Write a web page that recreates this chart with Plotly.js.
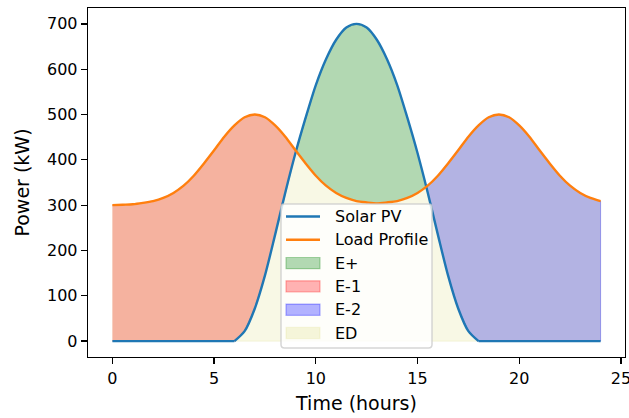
<!DOCTYPE html>
<html>
<head>
<meta charset="utf-8">
<script src="https://cdn.plot.ly/plotly-3.0.1.min.js"></script>
<style>
html,body{margin:0;padding:0;background:#ffffff;}
#chart{width:629px;height:418px;}
</style>
</head>
<body>
<div id="chart"></div>
<script>
// ---- data ----
const hours = [0,0.5,1,1.5,2,2.5,3,3.5,4,4.5,5,5.5,6,6.5,7,7.5,8,8.5,9,9.5,10,10.5,11,11.5,12,
               12.5,13,13.5,14,14.5,15,15.5,16,16.5,17,17.5,18,18.5,19,19.5,20,20.5,21,21.5,22,22.5,23,23.5,24];
const solarPV = [0,0,0,0,0,0,0,0,0,0,0,0,0,22,72,145,235,328,415,493,565,622,665,692,700,
                 692,665,622,565,493,415,328,235,145,72,22,0,0,0,0,0,0,0,0,0,0,0,0,0];
const loadProfile = [300,301,302,305,309,316,327,343,365,392,421,451,476,494,500,494,476,451,421,392,365,343,327,316,309,
                     306,304,306,309,316,327,343,365,392,421,451,476,494,500,494,476,451,421,392,365,343,327,316,309];
const xTickVals = [0,5,10,15,20,25];
const yTickVals = [0,100,200,300,400,500,600,700];
const lineNames = ['Solar PV','Load Profile'];
const areaNames = ['E+','E-1','E-2','ED'];

// ---- styles ----
const FONT = 'DejaVu Sans, Liberation Sans, sans-serif';
const C_PV = '#1f77b4', C_LOAD = '#ff7f0e';
// colours as seen inside the plot (overlapping translucent fills in the original)
const areaFill = {'E+':'#b2d8b2', 'E-1':'#f5b29f', 'E-2':'#b3b3e3', 'ED':'#f8f8e5'};
const areaEdge = {'E+':'rgba(0,128,0,0.3)', 'E-1':'rgba(255,0,0,0.3)', 'E-2':'rgba(0,0,255,0.3)', 'ED':'rgba(191,191,0,0.1)'};
// colours of the legend patches
const legendFill = {'E+':'rgba(0,128,0,0.3)', 'E-1':'rgba(255,0,0,0.3)', 'E-2':'rgba(0,0,255,0.3)', 'ED':'rgba(191,191,0,0.15)'};

// crossing points of the two curves (linear between samples)
function crossings(){
  const c = [];
  for (let i = 1; i < hours.length; i++) {
    const d0 = solarPV[i-1] - loadProfile[i-1], d1 = solarPV[i] - loadProfile[i];
    if ((d0 < 0 && d1 > 0) || (d0 > 0 && d1 < 0)) {
      const f = d0 / (d0 - d1);
      c.push({t: hours[i-1] + f*(hours[i]-hours[i-1]),
              v: loadProfile[i-1] + f*(loadProfile[i]-loadProfile[i-1])});
    }
  }
  return c;
}
function band(start, end, up, lo){
  const xs = [], yu = [], yl = [];
  if (start.v !== undefined) { xs.push(start.t); yu.push(start.v); yl.push(start.v); }
  hours.forEach((t,i) => { if (t >= start.t && t <= end.t) { xs.push(t); yu.push(up[i]); yl.push(lo[i]); } });
  if (end.v !== undefined) { xs.push(end.t); yu.push(end.v); yl.push(end.v); }
  return {x: xs.concat(xs.slice().reverse()), y: yu.concat(yl.slice().reverse())};
}
const cr = crossings();
const zeros = hours.map(() => 0);
const first = {t: hours[0]}, last = {t: hours[hours.length-1]};
const regions = {
  'ED':  band(first, last, loadProfile, zeros),
  'E-1': band(first, cr[0], loadProfile, solarPV),
  'E+':  band(cr[0], cr[1], solarPV, loadProfile),
  'E-2': band(cr[1], last, loadProfile, solarPV)
};

const traces = [];
['ED','E-1','E+','E-2'].forEach(k => {
  traces.push({x: regions[k].x, y: regions[k].y, type:'scatter', mode:'lines', fill:'toself',
    fillcolor: areaFill[k], line:{color: areaEdge[k], width:1}, name:k, showlegend:false, hoverinfo:'skip'});
});

// Solar PV: smooth part (where it is above zero, plus the neighbouring zero samples), flat parts straight
const pos = solarPV.map((v,i) => v > 0 ? i : -1).filter(i => i >= 0);
const iA = Math.max(0, pos[0]-1), iB = Math.min(hours.length-1, pos[pos.length-1]+1);
const pvPieces = [
  {s:0, e:iA, shape:'linear'},
  {s:iA, e:iB, shape:'spline'},
  {s:iB, e:hours.length-1, shape:'linear'}
];
pvPieces.forEach((p, j) => {
  traces.push({x: hours.slice(p.s, p.e+1), y: solarPV.slice(p.s, p.e+1), type:'scatter', mode:'lines',
    name: lineNames[0], line:{color:C_PV, width:2.4, shape:p.shape, smoothing:0.8}, showlegend:false});
});
traces.push({x: hours, y: loadProfile, type:'scatter', mode:'lines', name: lineNames[1],
  line:{color:C_LOAD, width:2.4, shape:'spline', smoothing:0.8}, showlegend:false});

// ---- manual legend (matplotlib style) ----
const PL = 88, PR = 625, PT = 8, PB = 357;
const px = v => (v - PL) / (PR - PL);
const py = v => (PB - v) / (PB - PT);
function roundRect(x0,y0,x1,y1,r){
  const X0=px(x0), X1=px(x1), Y0=py(y1), Y1=py(y0);
  const rx=r/(PR-PL), ry=r/(PB-PT);
  return `M${X0+rx},${Y1} L${X1-rx},${Y1} Q${X1},${Y1} ${X1},${Y1-ry} L${X1},${Y0+ry} Q${X1},${Y0} ${X1-rx},${Y0} `+
         `L${X0+rx},${Y0} Q${X0},${Y0} ${X0},${Y0+ry} L${X0},${Y1-ry} Q${X0},${Y1} ${X0+rx},${Y1} Z`;
}
const shapes = [{type:'path', xref:'paper', yref:'paper', path: roundRect(281,204,432,348,3.5),
  fillcolor:'rgba(255,255,255,0.8)', line:{color:'rgba(204,204,204,0.8)', width:1.5}, layer:'above'}];
const annotations = [];
const legendItems = lineNames.concat(areaNames);
const lx0 = 286, lx1 = 320, ltx = 333, ly0 = 216.5, lstep = 23.3;
legendItems.forEach((name, i) => {
  const yc = ly0 + i*lstep;
  if (i < 2) {
    shapes.push({type:'line', xref:'paper', yref:'paper', x0:px(lx0), x1:px(lx1), y0:py(yc), y1:py(yc),
      line:{color: i===0 ? C_PV : C_LOAD, width:2.4}, layer:'above'});
  } else {
    shapes.push({type:'rect', xref:'paper', yref:'paper', x0:px(lx0), x1:px(lx1), y0:py(yc+5.6), y1:py(yc-5.6),
      fillcolor:'white', line:{width:0}, layer:'above'});
    shapes.push({type:'rect', xref:'paper', yref:'paper', x0:px(lx0), x1:px(lx1), y0:py(yc+5.6), y1:py(yc-5.6),
      fillcolor: legendFill[name], line:{color: areaEdge[name], width:1.2}, layer:'above'});
  }
  annotations.push({xref:'paper', yref:'paper', x:px(ltx), y:py(yc), xanchor:'left', yanchor:'middle',
    text:name, showarrow:false, font:{family:FONT, size:16, color:'#000'}});
});

const axisCommon = {
  showgrid:false, zeroline:false, showline:true, mirror:true, linecolor:'#000', linewidth:1.3,
  ticks:'outside', ticklen:6, tickwidth:1.3, tickcolor:'#000', ticklabeloverflow:'allow',
  tickfont:{family:FONT, size:16, color:'#000'}, automargin:false
};
const layout = {
  width:629, height:418,
  margin:{l:PL, r:629-PR, t:PT, b:418-PB, pad:0},
  paper_bgcolor:'#ffffff', plot_bgcolor:'#ffffff',
  font:{family:FONT, color:'#000'},
  showlegend:false,
  xaxis: Object.assign({}, axisCommon, {range:[-1.2,25.2], tickvals:xTickVals, ticktext:xTickVals.map(String),
    title:{text:'Time (hours)', font:{family:FONT, size:19, color:'#000'}, standoff:10}}),
  yaxis: Object.assign({}, axisCommon, {range:[-35,735], tickvals:yTickVals, ticktext:yTickVals.map(String),
    title:{text:'Power (kW)', font:{family:FONT, size:19, color:'#000'}, standoff:12}}),
  shapes: shapes,
  annotations: annotations
};
Plotly.newPlot('chart', traces, layout, {staticPlot:true, displayModeBar:false});
</script>
</body>
</html>
